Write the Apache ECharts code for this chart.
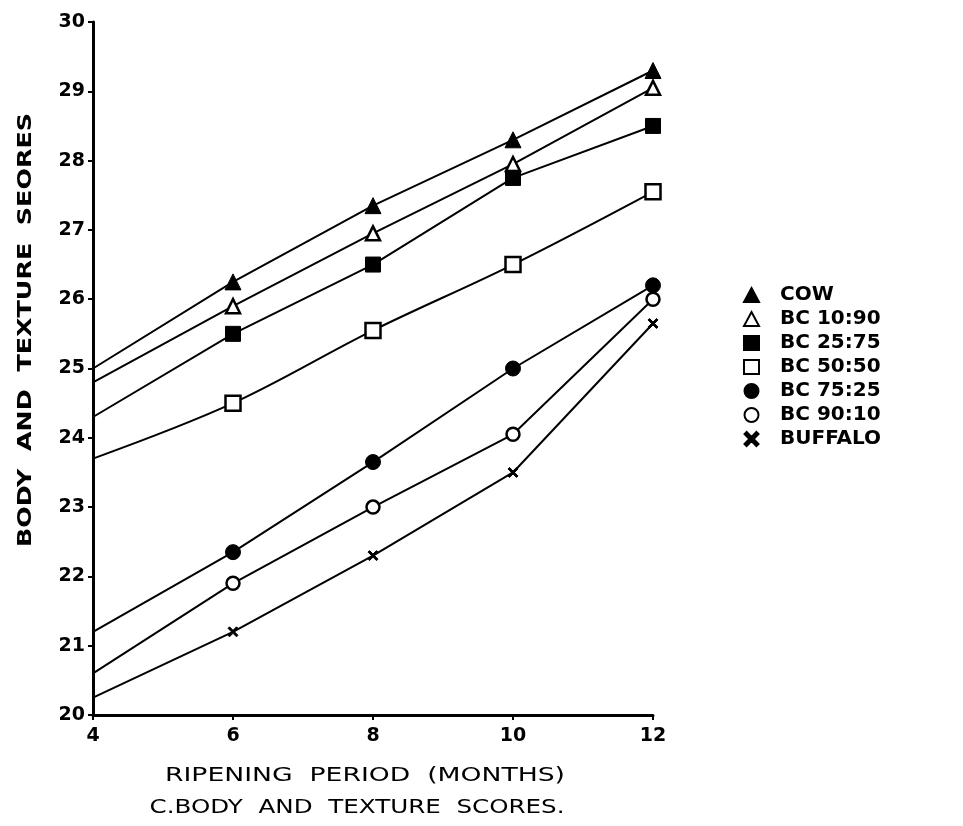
<!DOCTYPE html>
<html>
<head>
<meta charset="utf-8">
<script src="https://cdn.jsdelivr.net/npm/echarts@6/dist/echarts.min.js"></script>
<style>
  html, body { margin: 0; padding: 0; background: #fff; }
  #chart { width: 963px; height: 826px; }
</style>
</head>
<body>
<div id="chart"></div>
<script>
// Ripening period (months) and body & texture scores per milk blend
const months = [4, 6, 8, 10, 12];
const seriesNames = ['COW', 'BC 10:90', 'BC 25:75', 'BC 50:50', 'BC 75:25', 'BC 90:10', 'BUFFALO'];
const cow     = [25.0, 26.25, 27.35, 28.3, 29.3];
const bc1090  = [24.8, 25.9, 26.95, 27.95, 29.05];
const bc2575  = [24.3, 25.5, 26.5, 27.75, 28.5];
const bc5050  = [23.7, 24.5, 25.55, 26.5, 27.55];
const bc7525  = [21.2, 22.35, 23.65, 25.0, 26.2];
const bc9010  = [20.6, 21.9, 23.0, 24.05, 26.0];
const buffalo = [20.25, 21.2, 22.3, 23.5, 25.65];
const yTicks  = [20, 21, 22, 23, 24, 25, 26, 27, 28, 29, 30];
const xTicks  = [4, 6, 8, 10, 12];
const xTitle  = 'RIPENING  PERIOD  (MONTHS)';
const yTitle  = 'BODY  AND  TEXTURE  SEORES';
const caption = 'C.BODY  AND  TEXTURE  SCORES.';

const FONT = 'DejaVu Sans';
const crossPath = 'path://M0,1.5L1.5,0L5,3.5L8.5,0L10,1.5L6.5,5L10,8.5L8.5,10L5,6.5L1.5,10L0,8.5L3.5,5Z';

// horizontal stretch so a caption spans a given width
const measureCtx = document.createElement('canvas').getContext('2d');
function stretchFor(text, font, width) {
  measureCtx.font = font;
  return width / measureCtx.measureText(text).width;
}

// marker style per series: [symbol, filled?, size]
const markerStyles = [
  ['triangle', true, 16],
  ['triangle', false, 14],
  ['rect', true, 15],
  ['rect', false, 15],
  ['circle', true, 15],
  ['circle', false, 13],
  [crossPath, true, 10]
];
const values = [cow, bc1090, bc2575, bc5050, bc7525, bc9010, buffalo];

const series = values.map((vals, i) => {
  const [sym, filled, size] = markerStyles[i];
  return {
    name: seriesNames[i],
    type: 'line',
    symbol: sym,
    symbolSize: size,
    smooth: i === 3 ? 0.35 : false,
    // the 4-month point is the line's start only, without a marker
    data: months.map((m, k) => k === 0
      ? { value: [m, vals[k]], symbol: 'none' }
      : [m, vals[k]]),
    lineStyle: { color: '#000', width: 2 },
    itemStyle: filled
      ? { color: '#000', borderColor: '#000', borderWidth: 1 }
      : { color: '#fff', borderColor: '#000', borderWidth: 2.5 },
    emphasis: { disabled: true },
    z: 3
  };
});

const titleFont = '20px "DejaVu Sans"';
const yTitleFont = 'bold 19px "DejaVu Sans"';

const chart = echarts.init(document.getElementById('chart'));
chart.setOption({
  animation: false,
  backgroundColor: '#fff',
  grid: { left: 93, right: 310, top: 22, bottom: 111, containLabel: false },
  xAxis: {
    type: 'value',
    min: 4, max: 12, interval: 2,
    axisLine: { lineStyle: { color: '#000', width: 3 } },
    axisTick: { show: true, length: 5, lineStyle: { color: '#000', width: 2 } },
    axisLabel: {
      fontFamily: FONT, fontSize: 19, fontWeight: 'bold', color: '#000', margin: 12,
      formatter: v => xTicks.includes(v) ? String(v) : ''
    },
    splitLine: { show: false }
  },
  yAxis: {
    type: 'value',
    min: 20, max: 30, interval: 1,
    axisLine: { show: true, lineStyle: { color: '#000', width: 3 } },
    axisTick: { show: true, length: 5, lineStyle: { color: '#000', width: 2 } },
    axisLabel: {
      fontFamily: FONT, fontSize: 19, fontWeight: 'bold', color: '#000', margin: 8,
      formatter: v => yTicks.includes(v) ? String(v) : ''
    },
    splitLine: { show: false }
  },
  legend: {
    orient: 'vertical',
    left: 738,
    top: 280,
    itemWidth: 15,
    itemHeight: 14,
    itemGap: 4,
    selectedMode: false,
    textStyle: { fontFamily: FONT, fontSize: 20, fontWeight: 'bold', color: '#000', padding: [0, 0, 0, 16] },
    data: seriesNames.map((n, i) => ({ name: n, icon: markerStyles[i][0] }))
  },
  graphic: [
    {
      type: 'text',
      x: 365, y: 776,
      scaleX: stretchFor(xTitle, titleFont, 400),
      style: { text: xTitle, font: titleFont, fill: '#000', align: 'center', verticalAlign: 'middle' }
    },
    {
      type: 'text',
      x: 357, y: 808,
      scaleX: stretchFor(caption, titleFont, 415),
      style: { text: caption, font: titleFont, fill: '#000', align: 'center', verticalAlign: 'middle' }
    },
    {
      type: 'text',
      x: 26, y: 330,
      rotation: Math.PI / 2,
      scaleX: stretchFor(yTitle, yTitleFont, 434),
      style: { text: yTitle, font: yTitleFont, fill: '#000', align: 'center', verticalAlign: 'middle' }
    }
  ],
  series: series
});
</script>
</body>
</html>
